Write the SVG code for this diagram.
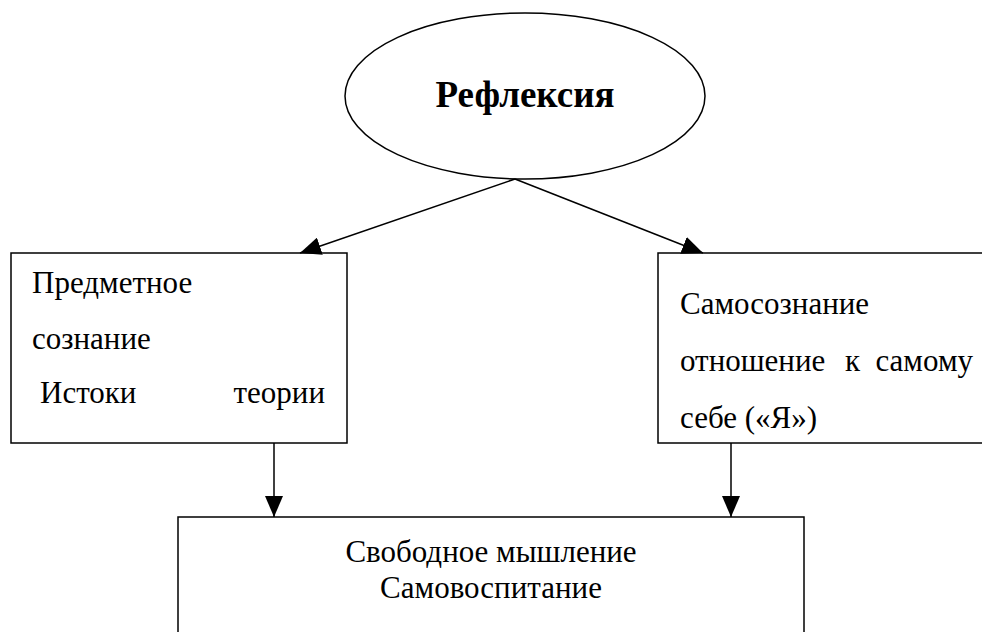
<svg xmlns="http://www.w3.org/2000/svg" width="982" height="632" viewBox="0 0 982 632">
<defs>
<marker id="ah" markerWidth="21" markerHeight="18" refX="21" refY="9" orient="auto" markerUnits="userSpaceOnUse">
<path d="M0,0 L21,9 L0,18 Z" fill="#000"/>
</marker>
<style>
.shape{fill:#fff;stroke:#000;stroke-width:1.5}
.t{font-family:"Liberation Serif","Times New Roman",serif;font-size:31px;fill:#000}
.b{font-weight:bold;font-size:37px}
.c{stroke:#000;stroke-width:1.5;fill:none;marker-end:url(#ah)}
</style>
</defs>
<rect width="982" height="632" fill="#fff"/>
<g id="node-reflexia">
<ellipse class="shape" cx="525" cy="96" rx="180" ry="83"/>
<text class="t b" x="525" y="107" text-anchor="middle">Рефлексия</text>
</g>
<g id="node-predmet">
<rect class="shape" x="11" y="253" width="336" height="190"/>
<text class="t" x="32" y="293">Предметное</text>
<text class="t" x="32" y="349">сознание</text>
<text class="t" x="40" y="403">Истоки</text>
<text class="t" x="325" y="403" text-anchor="end">теории</text>
</g>
<g id="node-samosoznanie">
<rect class="shape" x="658" y="253" width="340" height="190"/>
<text class="t" x="680" y="314">Самосознание</text>
<text class="t" x="680" y="371">отношение</text>
<text class="t" x="845" y="371">к</text>
<text class="t" x="973" y="371" text-anchor="end">самому</text>
<text class="t" x="680" y="428">себе («Я»)</text>
</g>
<g id="node-svobodnoe">
<rect class="shape" x="178" y="517" width="626" height="130"/>
<text class="t" x="491" y="562" text-anchor="middle">Свободное мышление</text>
<text class="t" x="491" y="598" text-anchor="middle">Самовоспитание</text>
</g>
<g id="connectors">
<line class="c" x1="515" y1="179" x2="300" y2="253"/>
<line class="c" x1="515" y1="179" x2="703" y2="253"/>
<line class="c" x1="274" y1="443" x2="274" y2="517"/>
<line class="c" x1="731" y1="443" x2="731" y2="517"/>
</g>
</svg>
